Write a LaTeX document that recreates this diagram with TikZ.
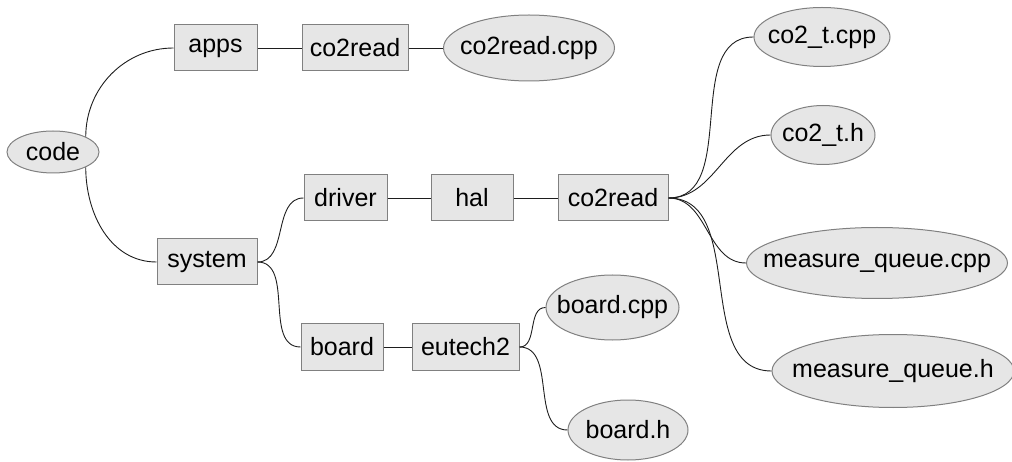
\documentclass[tikz,border=0pt]{standalone}
\usepackage{fontspec}
\setmainfont{Liberation Sans}
\usepackage{tikz}
\usetikzlibrary{shapes,positioning}
\definecolor{nodefill}{RGB}{230,230,230}
\definecolor{nodeline}{RGB}{128,128,128}
\definecolor{linkgray}{RGB}{30,30,30}

\begin{document}
\begin{tikzpicture}[
    x=1pt, y=1pt,
    dir/.style={rectangle, draw=nodeline, fill=nodefill, line width=1pt, inner sep=0pt, minimum height=46pt, font=\fontsize{25}{30}\selectfont},
    file/.style={ellipse, draw=nodeline, fill=nodefill, line width=1pt, inner sep=0pt, font=\fontsize{25}{30}\selectfont, execute at begin node={\hbox to 0pt\bgroup\hss}, execute at end node={\hss\egroup}},
    link/.style={draw=linkgray, line width=0.9pt}
]
    \useasboundingbox (0,0) rectangle (1012,-462);

    \node[file, minimum width=92pt, minimum height=42pt] (code) at (53,-152) {code};
    \node[dir, minimum width=83pt] (apps) at (215.5,-48) {apps};
    \node[dir, minimum width=106pt] (appread) at (355,-48) {co2read};
    \node[file, minimum width=171pt, minimum height=66pt] (appcpp) at (529,-48) {co2read.cpp};
    \node[dir, minimum width=100pt] (system) at (207,-262) {system};
    \node[dir, minimum width=83pt] (driver) at (345.5,-198) {driver};
    \node[dir, minimum width=82pt] (hal) at (472,-198) {hal};
    \node[dir, minimum width=110pt] (drvread) at (613,-198) {co2read};
    \node[file, minimum width=136pt, minimum height=59pt] (cotcpp) at (822,-37) {co2\_t.cpp};
    \node[file, minimum width=104pt, minimum height=59pt] (coth) at (823,-135) {co2\_t.h};
    \node[file, minimum width=261pt, minimum height=71pt] (mqcpp) at (877,-263) {measure\_queue.cpp};
    \node[file, minimum width=242pt, minimum height=73pt] (mqh) at (893,-371) {measure\_queue.h};
    \node[dir, minimum width=82pt] (board) at (342,-347) {board};
    \node[dir, minimum width=107pt] (eutech) at (465.5,-347) {eutech2};
    \node[file, minimum width=133pt, minimum height=65pt] (boardcpp) at (612.5,-307.5) {board.cpp};
    \node[file, minimum width=120pt, minimum height=60pt] (boardh) at (628,-430) {board.h};

    \draw[link] (code.25) to[out=90,in=180] (apps.west);
    \draw[link] (code.-25) to[out=-90,in=180] (system.west);
    \draw[link] (apps) -- (appread);
    \draw[link] (appread) -- (appcpp);
    \draw[link] (system.east) to[out=0,in=180] (driver.west);
    \draw[link] (system.east) to[out=0,in=180] (board.west);
    \draw[link] (driver) -- (hal);
    \draw[link] (hal) -- (drvread);
    \foreach \leaf in {cotcpp,coth,mqcpp,mqh}
        \draw[link] (drvread.east) to[out=0,in=180] (\leaf.west);
    \draw[link] (board) -- (eutech);
    \draw[link] (eutech.east) to[out=0,in=180] (boardcpp.west);
    \draw[link] (eutech.east) to[out=0,in=180] (boardh.west);
\end{tikzpicture}
\end{document}
